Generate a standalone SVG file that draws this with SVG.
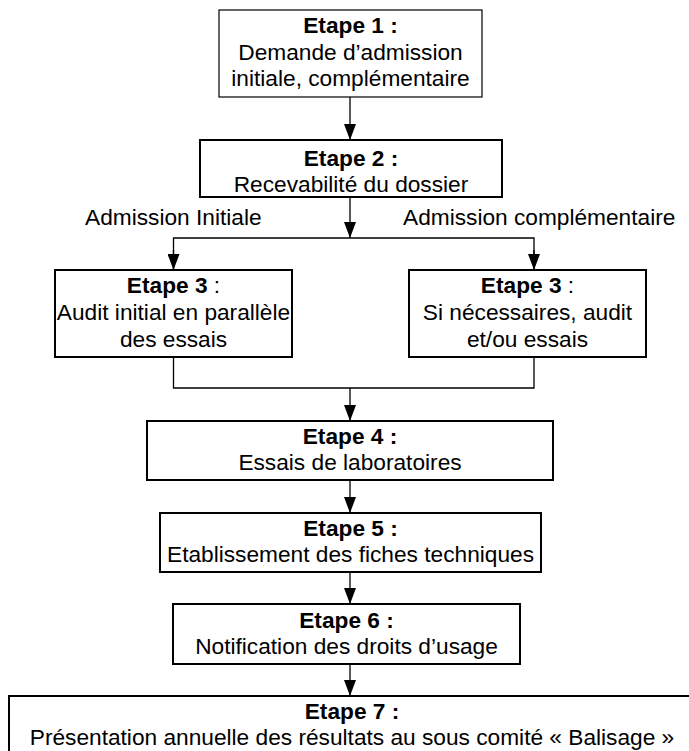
<svg xmlns="http://www.w3.org/2000/svg" width="689" height="751" viewBox="0 0 689 751">
<style>
text{font-family:"Liberation Sans",Arial,sans-serif;font-size:22.7px;fill:#000;text-anchor:middle}
.b{font-weight:bold}
.box{fill:#fff;stroke:#000;stroke-width:2}
.thin{stroke-width:1.2}
.c{fill:none;stroke:#000;stroke-width:1.3}
</style>
<defs>
<marker id="ah" markerWidth="11" markerHeight="15" refX="11" refY="7.5" orient="auto" markerUnits="userSpaceOnUse" viewBox="0 0 11 15">
<path d="M0,0 L11,7.5 L0,15 Z" fill="#000" transform="rotate(0)"/>
</marker>
<marker id="ad" markerWidth="12" markerHeight="16" refX="6" refY="16" orient="0" markerUnits="userSpaceOnUse" viewBox="0 0 12 16">
<path d="M0,0 L12,0 L6,16 Z" fill="#000"/>
</marker>
</defs>
<rect width="689" height="751" fill="#fff"/>
<g id="connectors">
<line class="c" x1="350" y1="97" x2="350" y2="140" marker-end="url(#ad)"/>
<line class="c" x1="350" y1="197" x2="350" y2="238" marker-end="url(#ad)"/>
<polyline class="c" points="173.5,270 173.5,238 534,238 534,270"/>
<line class="c" x1="173.5" y1="250" x2="173.5" y2="270" marker-end="url(#ad)"/>
<line class="c" x1="534" y1="250" x2="534" y2="270" marker-end="url(#ad)"/>
<polyline class="c" points="173.5,357 173.5,388 534,388 534,357"/>
<line class="c" x1="350" y1="388" x2="350" y2="421" marker-end="url(#ad)"/>
<line class="c" x1="350" y1="480" x2="350" y2="513" marker-end="url(#ad)"/>
<line class="c" x1="350" y1="572" x2="350" y2="604" marker-end="url(#ad)"/>
<line class="c" x1="350" y1="664" x2="350" y2="696" marker-end="url(#ad)"/>
<text x="85" y="225" style="text-anchor:start">Admission Initiale</text>
<text x="403" y="225" style="text-anchor:start">Admission complémentaire</text>
</g>
<g id="etape1">
<rect class="box thin" x="219" y="10" width="263" height="87"/>
<text class="b" x="350.5" y="33">Etape 1 :</text>
<text x="350.5" y="59.5">Demande d’admission</text>
<text x="350.5" y="86">initiale, complémentaire</text>
</g>
<g id="etape2">
<rect class="box" x="200" y="140" width="302" height="57"/>
<text class="b" x="351" y="166">Etape 2 :</text>
<text x="351" y="192">Recevabilité du dossier</text>
</g>
<g id="etape3a">
<rect class="box" x="55" y="270" width="237" height="87"/>
<text x="173.5" y="293"><tspan class="b">Etape 3</tspan> :</text>
<text x="173.5" y="320">Audit initial en parallèle</text>
<text x="173.5" y="347">des essais</text>
</g>
<g id="etape3b">
<rect class="box" x="409" y="270" width="237" height="87"/>
<text x="527.5" y="293"><tspan class="b">Etape 3</tspan> :</text>
<text x="527.5" y="320">Si nécessaires, audit</text>
<text x="527.5" y="347">et/ou essais</text>
</g>
<g id="etape4">
<rect class="box" x="147" y="421" width="406" height="59"/>
<text class="b" x="350" y="444">Etape 4 :</text>
<text x="350" y="470">Essais de laboratoires</text>
</g>
<g id="etape5">
<rect class="box" x="160" y="513" width="381" height="59"/>
<text class="b" x="350.5" y="536">Etape 5 :</text>
<text x="350.5" y="562">Etablissement des fiches techniques</text>
</g>
<g id="etape6">
<rect class="box" x="173" y="604" width="347" height="60"/>
<text class="b" x="346.5" y="628">Etape 6 :</text>
<text x="346.5" y="654">Notification des droits d’usage</text>
</g>
<g id="etape7">
<rect class="box" x="9" y="696" width="688" height="70"/>
<text class="b" x="352" y="719">Etape 7 :</text>
<text x="352" y="745">Présentation annuelle des résultats au sous comité « Balisage »</text>
</g>
</svg>
